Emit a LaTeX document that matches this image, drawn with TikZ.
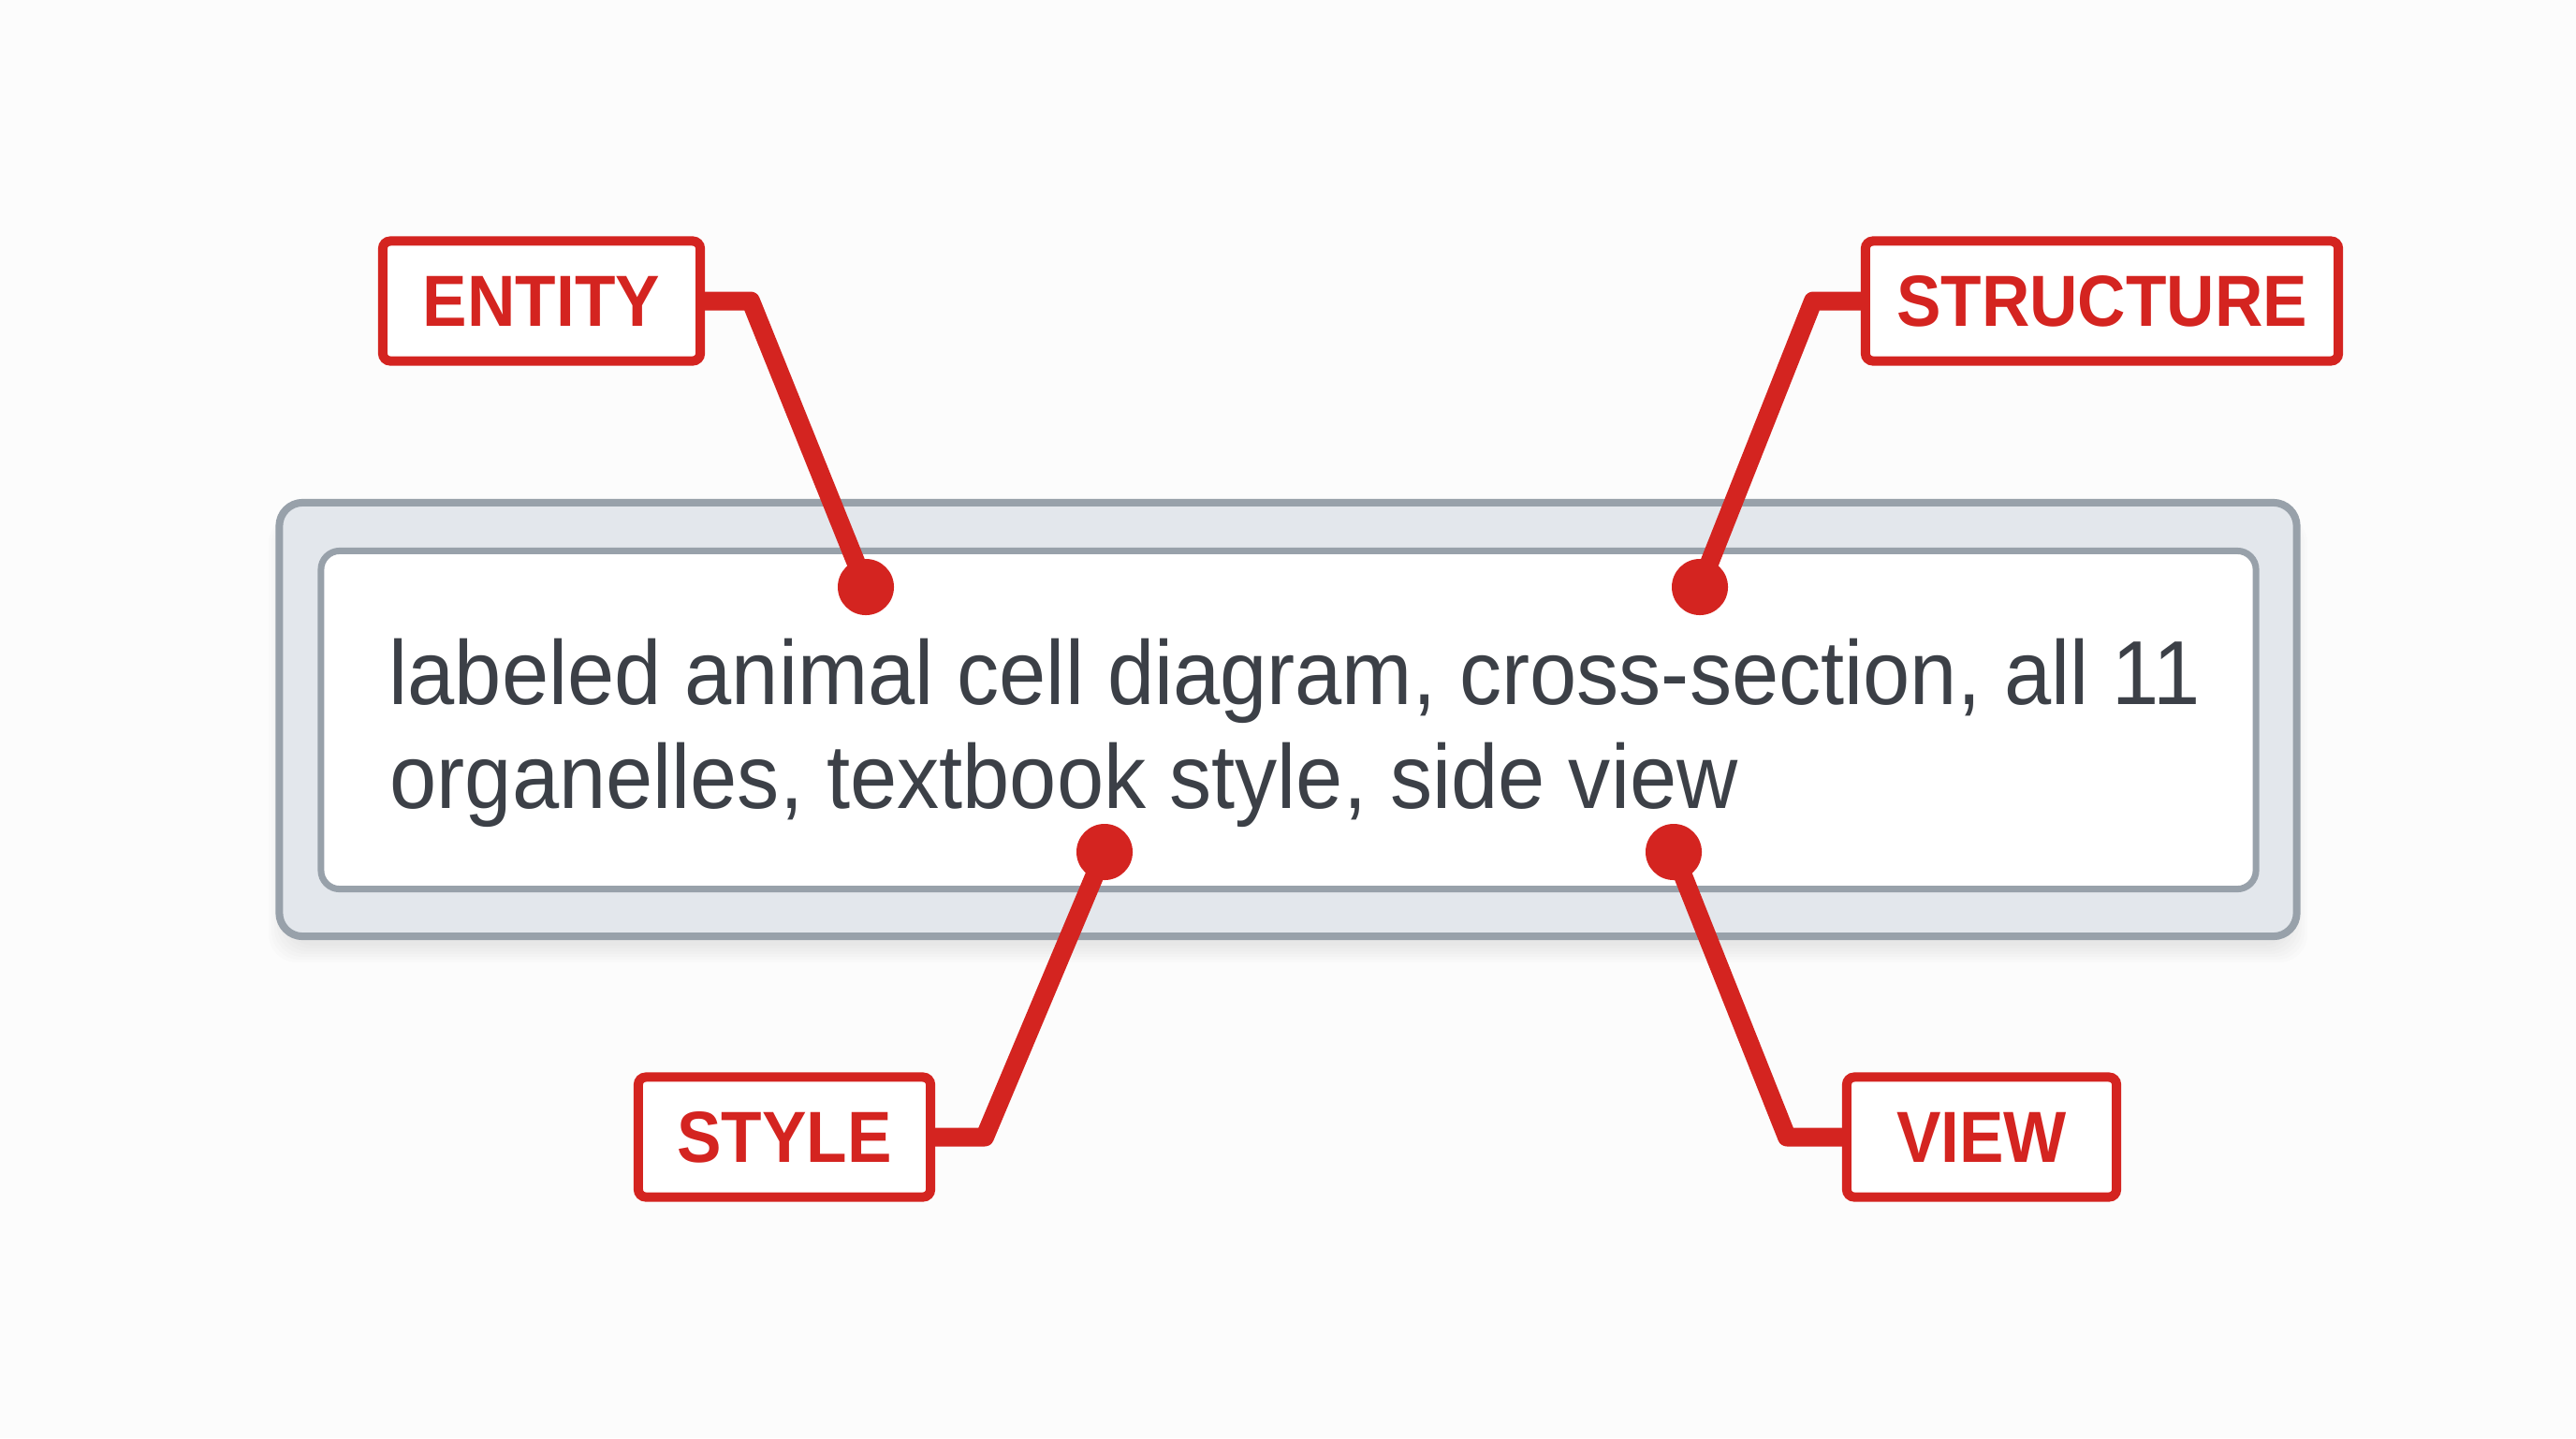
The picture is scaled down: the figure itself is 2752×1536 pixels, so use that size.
\documentclass[tikz,border=0pt]{standalone}
\usepackage{fontspec}
\newfontfamily\bodyfont[FakeStretch=0.93]{Liberation Sans}
\newfontfamily\labelfont[FakeStretch=0.92]{Liberation Sans}
\definecolor{lblred}{RGB}{212,36,32}
\definecolor{boxgray}{RGB}{152,161,170}
\definecolor{boxfill}{RGB}{227,231,236}
\definecolor{bodytext}{RGB}{60,64,71}
\definecolor{bgcol}{RGB}{252,252,252}
\begin{document}
\begin{tikzpicture}[x=0.01cm,y=-0.01cm,
  lbl/.style={draw=lblred, line width=0.1cm, rounded corners=0.08cm, fill=white,
    inner sep=0pt, minimum height=1.28cm, text=lblred,
    font=\labelfont\bfseries\fontsize{22pt}{26pt}\selectfont},
  leader/.style={draw=lblred, line width=0.2cm, line join=round},
  pin/.style={circle, fill=lblred, minimum size=0.6cm, inner sep=0pt},
  bodyline/.style={anchor=base west, inner sep=0pt, text=bodytext,
    font=\bodyfont\fontsize{27.6pt}{32pt}\selectfont}]
\fill[bgcol] (0,0) rectangle (2752,1536);
\useasboundingbox (0,0) rectangle (2752,1536);
% soft shadow
\foreach \s in {0,3,...,18}
  \fill[black, opacity=0.012, rounded corners=0.3cm] (305-\s,550) rectangle (2447+\s,1010+\s);
% outer and inner frame
\node (outer) [draw=boxgray, line width=0.08cm, fill=boxfill, rounded corners=0.25cm,
  minimum width=21.54cm, minimum height=4.63cm, inner sep=0pt] at (1376,768.5) {};
\node (inner) [draw=boxgray, line width=0.07cm, fill=white, rounded corners=0.2cm,
  minimum width=20.66cm, minimum height=3.61cm, inner sep=0pt] at (1376.5,769) {};
% prompt text
\node (line1) [bodyline] at (415,752) {labeled animal cell diagram, cross-section, all 11};
\node (line2) [bodyline] at (416,863) {organelles, textbook style, side view};
% pins
\node (edot) [pin] at (925,627) {};
\node (sdot) [pin] at (1816,627) {};
\node (ydot) [pin] at (1180,910) {};
\node (vdot) [pin] at (1788,910) {};
% labels
\node (entity) [lbl, minimum width=3.39cm] at (578.5,321.5) {ENTITY};
\node (structure) [lbl, minimum width=5.05cm] at (2245.5,321.5) {STRUCTURE};
\node (style) [lbl, minimum width=3.12cm] at (838,1214.5) {STYLE};
\node (view) [lbl, minimum width=2.88cm] at (2117,1214.5) {VIEW};
% bends
\coordinate (ebend) at (802,321.5);
\coordinate (sbend) at (1937,321.5);
\coordinate (ybend) at (1052,1214.5);
\coordinate (vbend) at (1909,1214.5);
% leaders
\draw[leader] (entity.east) -- (ebend) -- (edot.center);
\draw[leader] (structure.west) -- (sbend) -- (sdot.center);
\draw[leader] (style.east) -- (ybend) -- (ydot.center);
\draw[leader] (view.west) -- (vbend) -- (vdot.center);
\end{tikzpicture}
\end{document}
